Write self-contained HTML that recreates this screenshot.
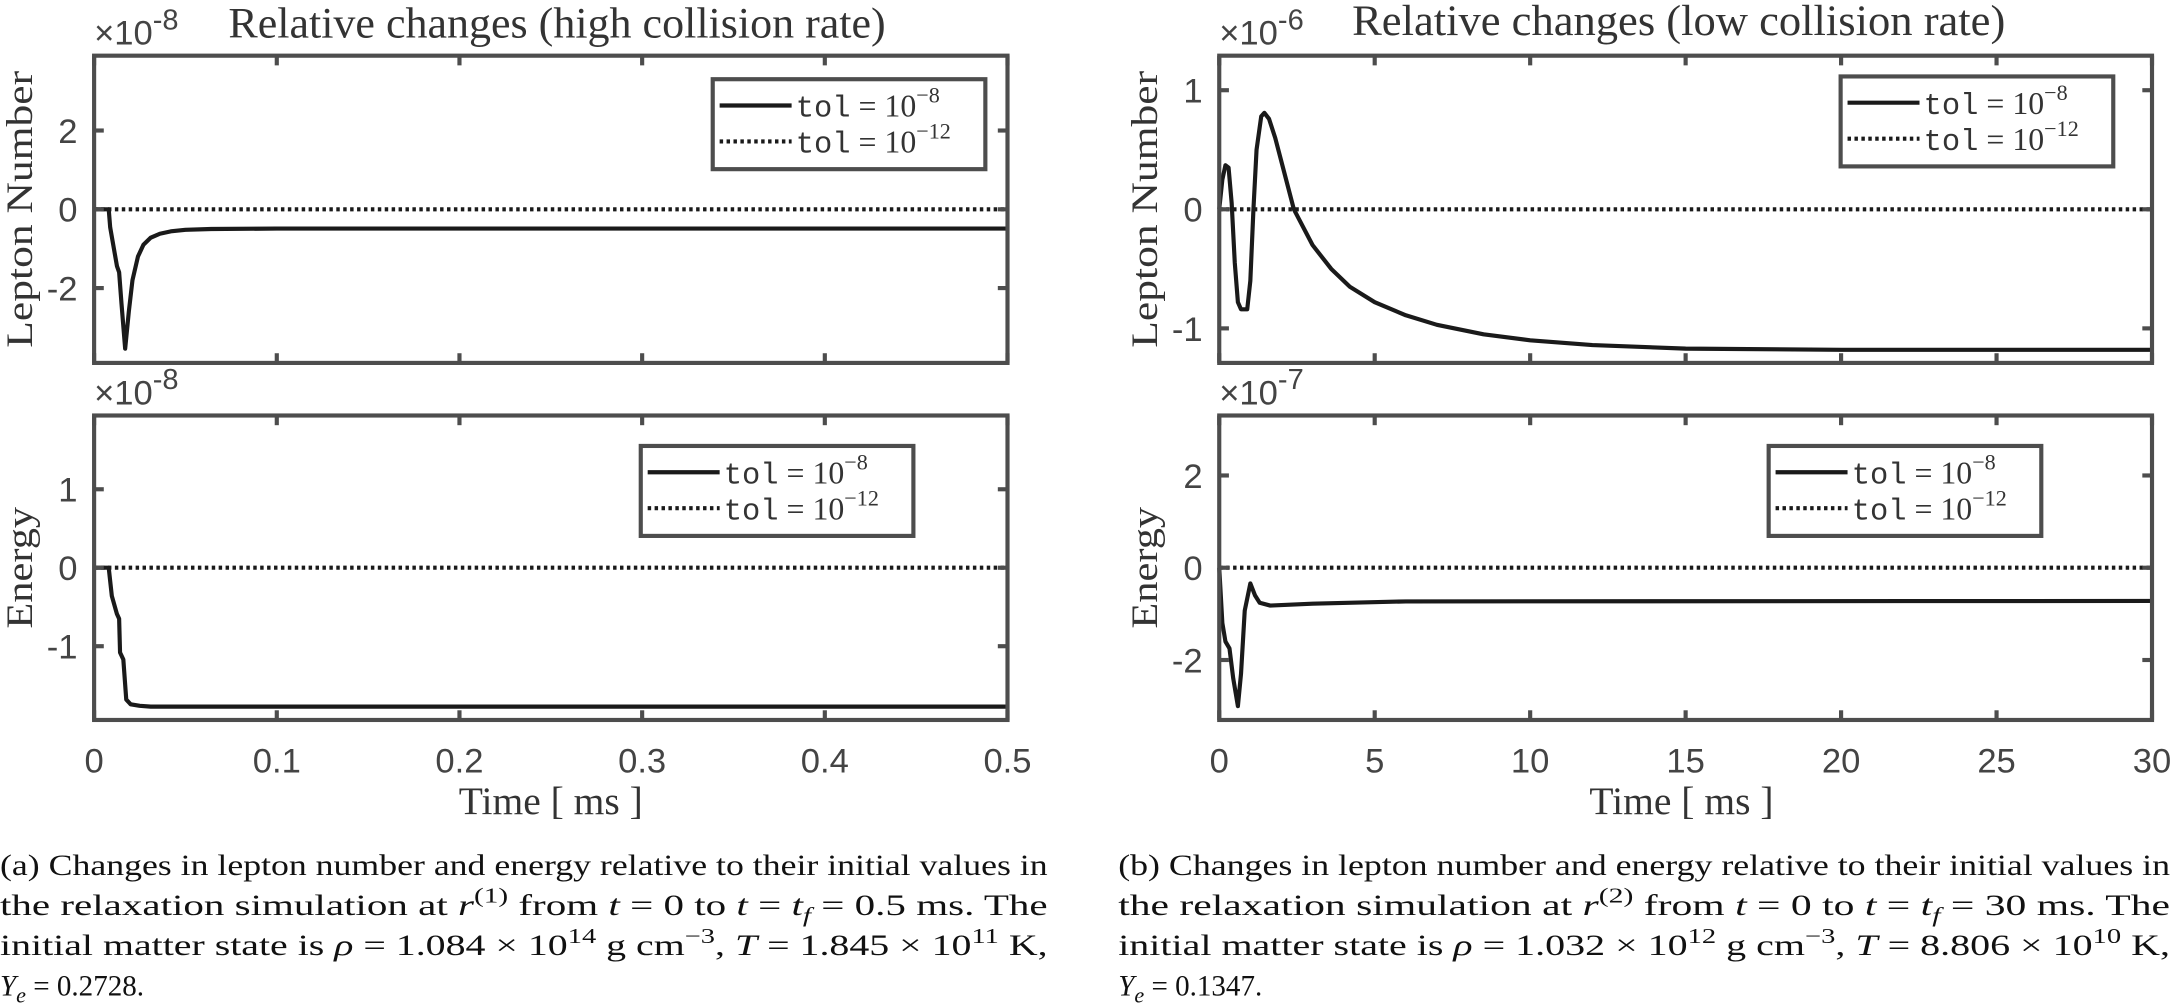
<!DOCTYPE html>
<html><head><meta charset="utf-8"><style>
html,body{margin:0;padding:0;background:#fff}
svg{display:block}
.tick{font-family:"Liberation Sans",sans-serif;font-size:25px;fill:#444}
.ser{font-family:"Liberation Serif",serif;fill:#333}
.cap{font-family:"Liberation Serif",serif;font-size:21px;fill:#111}
.mono{font-family:"Liberation Mono",monospace}
</style></head><body>
<svg id="fig" width="2170" height="1004" viewBox="0 0 1568 725" xmlns="http://www.w3.org/2000/svg">
<g id="plots"></g>
<g>
<text class="cap" x="0" y="632" textLength="757" lengthAdjust="spacingAndGlyphs">(a) Changes in lepton number and energy relative to their initial values in</text>
<text class="cap" x="0" y="661" textLength="757" lengthAdjust="spacingAndGlyphs">the relaxation simulation at <tspan font-style="italic">r</tspan><tspan dy="-9" font-size="15">(1)</tspan><tspan dy="9"> from </tspan><tspan font-style="italic">t</tspan> = 0 to <tspan font-style="italic">t</tspan> = <tspan font-style="italic">t</tspan><tspan dy="5" font-size="15" font-style="italic">f</tspan><tspan dy="-5"> = 0.5 ms.  The</tspan></text>
<text class="cap" x="0" y="690" textLength="757" lengthAdjust="spacingAndGlyphs">initial matter state is <tspan font-style="italic">ρ</tspan> = 1.084 × 10<tspan dy="-9" font-size="15">14</tspan><tspan dy="9"> g cm</tspan><tspan dy="-9" font-size="15">−3</tspan><tspan dy="9">, </tspan><tspan font-style="italic">T</tspan> = 1.845 × 10<tspan dy="-9" font-size="15">11</tspan><tspan dy="9"> K,</tspan></text>
<text class="cap" x="0" y="719" font-size="24"><tspan font-style="italic">Y</tspan><tspan dy="5" font-size="16" font-style="italic">e</tspan><tspan dy="-5"> = 0.2728.</tspan></text>
</g>
<g>
<text class="cap" x="808" y="632" textLength="760" lengthAdjust="spacingAndGlyphs">(b) Changes in lepton number and energy relative to their initial values in</text>
<text class="cap" x="808" y="661" textLength="760" lengthAdjust="spacingAndGlyphs">the relaxation simulation at <tspan font-style="italic">r</tspan><tspan dy="-9" font-size="15">(2)</tspan><tspan dy="9"> from </tspan><tspan font-style="italic">t</tspan> = 0 to <tspan font-style="italic">t</tspan> = <tspan font-style="italic">t</tspan><tspan dy="5" font-size="15" font-style="italic">f</tspan><tspan dy="-5"> = 30 ms.  The</tspan></text>
<text class="cap" x="808" y="690" textLength="760" lengthAdjust="spacingAndGlyphs">initial matter state is <tspan font-style="italic">ρ</tspan> = 1.032 × 10<tspan dy="-9" font-size="15">12</tspan><tspan dy="9"> g cm</tspan><tspan dy="-9" font-size="15">−3</tspan><tspan dy="9">, </tspan><tspan font-style="italic">T</tspan> = 8.806 × 10<tspan dy="-9" font-size="15">10</tspan><tspan dy="9"> K,</tspan></text>
<text class="cap" x="808" y="719" font-size="24"><tspan font-style="italic">Y</tspan><tspan dy="5" font-size="16" font-style="italic">e</tspan><tspan dy="-5"> = 0.1347.</tspan></text>
</g>
</svg>
<script>
// ---- data: panel (a) high collision rate ----
const timeA_lepton = [0,0.008,0.0088,0.0125,0.0137,0.015,0.017,0.019,0.021,0.024,0.027,0.031,0.036,0.042,0.05,0.064,0.1,0.5];
const lepA = [0,0,-0.46,-1.44,-1.6,-2.4,-3.54,-2.6,-1.8,-1.2,-0.9,-0.72,-0.62,-0.56,-0.52,-0.5,-0.49,-0.49];
const timeA_energy = [0,0.008,0.0097,0.0125,0.0137,0.0142,0.016,0.0176,0.02,0.025,0.031,0.5];
const enA = [0,0,-0.36,-0.59,-0.65,-1.08,-1.17,-1.68,-1.74,-1.76,-1.77,-1.77];
const xTicksA = [0,0.1,0.2,0.3,0.4,0.5];
const xTickLabelsA = ["0","0.1","0.2","0.3","0.4","0.5"];
const yTicksA1 = [-2,0,2];
const yTicksA2 = [-1,0,1];
// ---- data: panel (b) low collision rate ----
const timeB_lepton = [0,0.1,0.2,0.3,0.4,0.5,0.6,0.7,0.9,1.0,1.1,1.2,1.35,1.45,1.6,1.8,2.1,2.4,3.0,3.6,4.2,5,6,7,8.5,10,12,15,20,30];
const lepB = [0,0.25,0.37,0.35,0.05,-0.45,-0.78,-0.84,-0.84,-0.6,0,0.5,0.78,0.81,0.76,0.6,0.3,0,-0.3,-0.5,-0.65,-0.78,-0.89,-0.97,-1.05,-1.1,-1.14,-1.17,-1.18,-1.18];
const timeB_energy = [0,0.1,0.2,0.33,0.45,0.6,0.7,0.82,1.0,1.15,1.3,1.64,3,6,30];
const enB = [0,-1.2,-1.6,-1.75,-2.4,-3.0,-2.3,-0.93,-0.34,-0.6,-0.76,-0.82,-0.78,-0.73,-0.72];
const xTicksB = [0,5,10,15,20,25,30];
const xTickLabelsB = ["0","5","10","15","20","25","30"];
const yTicksB1 = [-1,0,1];
const yTicksB2 = [-2,0,2];

const NS="http://www.w3.org/2000/svg";
const root=document.getElementById('plots');
function mk(tag,attrs,parent){const e=document.createElementNS(NS,tag);for(const k in attrs)e.setAttribute(k,attrs[k]);(parent||root).appendChild(e);return e;}

function panel(o){
  const g=mk('g',{});
  
  
  const sx=v=>o.x0+(v-o.xmin)/(o.xmax-o.xmin)*(o.x1-o.x0);
  const sy=v=>o.y1-(v-o.ymin)/(o.ymax-o.ymin)*(o.y1-o.y0);
  const z=mk('line',{x1:o.x0,x2:o.x1,y1:sy(0),y2:sy(0),stroke:'#1a1a1a','stroke-width':3,'stroke-dasharray':'2.5,2.5'},g);
  
  
  let d='';o.xs.forEach((t,i)=>{d+=(i?'L':'M')+sx(t).toFixed(2)+','+sy(o.ys[i]).toFixed(2);});
  const p=mk('path',{d:d,fill:'none',stroke:'#1a1a1a','stroke-width':3,'stroke-linejoin':'round'},g);
  
  
  const b=mk('rect',{x:o.x0,y:o.y0,width:o.x1-o.x0,height:o.y1-o.y0,fill:'none',stroke:'#4d4d4d','stroke-width':3},g);
  
  
  o.xt.forEach((t,i)=>{
    const x=sx(t);
    mk('line',{x1:x,x2:x,y1:o.y1,y2:o.y1-7,stroke:'#4d4d4d','stroke-width':3},g);
    mk('line',{x1:x,x2:x,y1:o.y0,y2:o.y0+7,stroke:'#4d4d4d','stroke-width':3},g);
    if(o.xl){const tx=mk('text',{x:x,y:o.y1+38,'text-anchor':'middle',class:'tick'},g);tx.textContent=o.xl[i];
      
      }
  });
  o.yt.forEach(v=>{
    const y=sy(v);
    mk('line',{x1:o.x0,x2:o.x0+7,y1:y,y2:y,stroke:'#4d4d4d','stroke-width':3},g);
    mk('line',{x1:o.x1,x2:o.x1-7,y1:y,y2:y,stroke:'#4d4d4d','stroke-width':3},g);
    const tx=mk('text',{x:o.x0-12,y:y+9,'text-anchor':'end',class:'tick'},g);tx.textContent=String(v);
    
    
  });
  const ex=mk('text',{x:o.x0,y:o.y0-8,class:'tick','font-size':27},g);
  ex.innerHTML='×10<tspan dy="-11" font-size="21">'+o.exp+'</tspan>';
  
  
  const yl=mk('text',{x:0,y:0,class:'ser','font-size':27,'text-anchor':'middle',textLength:o.ylen,lengthAdjust:'spacingAndGlyphs',transform:'translate('+(o.x0-45)+','+((o.y0+o.y1)/2)+') rotate(-90)'},g);
  yl.textContent=o.ylabel;
  
  
  const L=mk('g',{},g);
  
  
  mk('rect',{x:o.lx,y:o.ly,width:197,height:65,fill:'#fff',stroke:'#4d4d4d','stroke-width':3},L);
  mk('line',{x1:o.lx+5,x2:o.lx+57,y1:o.ly+19,y2:o.ly+19,stroke:'#1a1a1a','stroke-width':3},L);
  mk('line',{x1:o.lx+5,x2:o.lx+57,y1:o.ly+45,y2:o.ly+45,stroke:'#1a1a1a','stroke-width':3,'stroke-dasharray':'2.5,2.5'},L);
  const t1=mk('text',{x:o.lx+60,y:o.ly+27,class:'ser','font-size':23,fill:'#111'},L);
  t1.innerHTML='<tspan class="mono" font-size="22">tol</tspan> = 10<tspan dy="-10" font-size="16">−8</tspan>';
  
  
  const t2=mk('text',{x:o.lx+60,y:o.ly+53,class:'ser','font-size':23,fill:'#111'},L);
  t2.innerHTML='<tspan class="mono" font-size="22">tol</tspan> = 10<tspan dy="-10" font-size="16">−12</tspan>';
  
  
}

panel({name:'panel-a-lepton',x0:68,x1:728,y0:40,y1:262,xmin:0,xmax:0.5,ymin:-3.9,ymax:3.9,xs:timeA_lepton,ys:lepA,xt:xTicksA,yt:yTicksA1,exp:'-8',ylabel:'Lepton Number',ylen:200,lx:515,ly:57});
panel({name:'panel-a-energy',x0:68,x1:728,y0:300,y1:520,xmin:0,xmax:0.5,ymin:-1.94,ymax:1.94,xs:timeA_energy,ys:enA,xt:xTicksA,xl:xTickLabelsA,yt:yTicksA2,exp:'-8',ylabel:'Energy',ylen:88,lx:463,ly:322});
panel({name:'panel-b-lepton',x0:881,x1:1555,y0:40,y1:262,xmin:0,xmax:30,ymin:-1.29,ymax:1.29,xs:timeB_lepton,ys:lepB,xt:xTicksB,yt:yTicksB1,exp:'-6',ylabel:'Lepton Number',ylen:200,lx:1330,ly:55});
panel({name:'panel-b-energy',x0:881,x1:1555,y0:300,y1:520,xmin:0,xmax:30,ymin:-3.3,ymax:3.3,xs:timeB_energy,ys:enB,xt:xTicksB,xl:xTickLabelsB,yt:yTicksB2,exp:'-7',ylabel:'Energy',ylen:88,lx:1278,ly:322});

function txt(x,y,s,size,name,anchor,len){const a={x:x,y:y,class:'ser','font-size':size,'text-anchor':anchor||'middle'};if(len){a.textLength=len;a.lengthAdjust='spacingAndGlyphs';}
  const t=mk('text',a);t.textContent=s;
  
  }
txt(165,27,'Relative changes (high collision rate)',31,'title-a','start',475);
txt(977,25,'Relative changes (low collision rate)',31,'title-b','start',472);
txt(398,588,'Time [ ms ]',28,'x-axis-title-a','middle',133);
txt(1215,588,'Time [ ms ]',28,'x-axis-title-b','middle',133);
</script>
</body></html>
